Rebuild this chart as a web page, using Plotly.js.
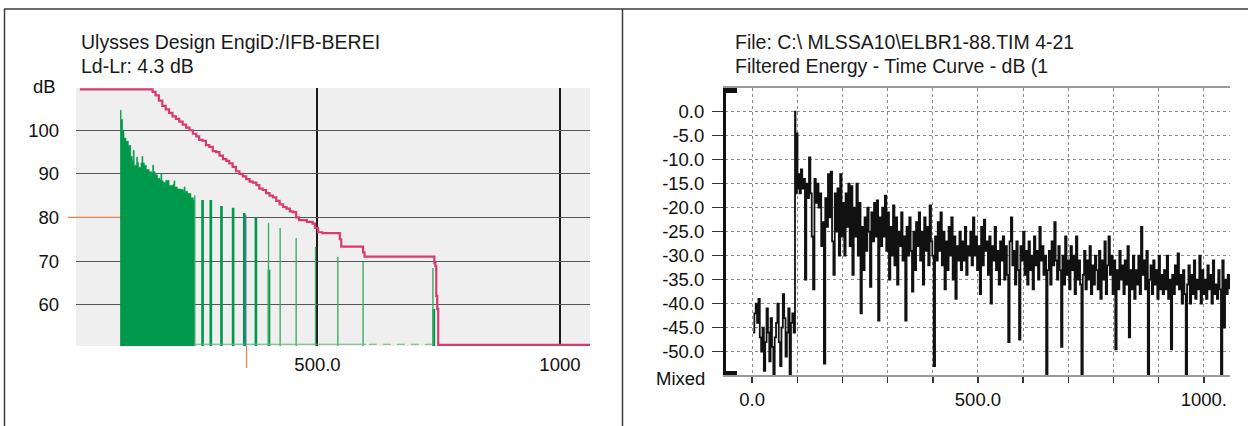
<!DOCTYPE html>
<html>
<head>
<meta charset="utf-8">
<script src="https://cdn.plot.ly/plotly-3.0.1.min.js"></script>
<style>
  html, body { margin: 0; padding: 0; background: #ffffff; }
  #chart { width: 1248px; height: 426px; }
</style>
</head>
<body>
<div id="chart"></div>
<script>
// ---------------- LEFT PANEL DATA (level in dB vs time) ----------------
const leftTitle1 = "Ulysses Design EngiD:/IFB-BEREI";
const leftTitle2 = "Ld-Lr: 4.3 dB";
const leftYTicks = [60, 70, 80, 90, 100];
const leftYTickText = ["60", "70", "80", "90", "100"];
const leftXTicks = [500, 1000];
const leftXTickText = ["500.0", "1000"];

// dense early energy (envelope of green area)
const greenT = [93, 95, 98, 101, 105, 110, 115, 118, 120, 122, 127, 129, 131, 136, 138, 140, 143, 147, 153, 158,
                160, 162, 165, 170, 175, 177, 179, 182, 187, 194, 202, 204, 206, 211, 218, 223, 225, 227, 232, 239, 244, 246];
const greenL = [104.6, 102.5, 100, 98.2, 97.5, 96.5, 94, 93, 95.4, 92, 93.8, 92.6, 91.5, 92.5, 94, 92.5, 92, 91, 90.5, 90.2,
                92, 90.5, 89.8, 89, 88.6, 90, 88.4, 88, 88.5, 87.3, 87.6, 88.4, 87, 86.5, 86.4, 86.2, 87, 86, 85.5, 84.5, 84, 84];

// discrete reflections (spikes)
const strongT = [263, 280, 302, 326, 349, 373, 400, 740];
const strongL = [84, 84, 82.6, 82.2, 81, 79.9, 68, 59];
const thinT = [247, 399, 423, 456, 496, 542, 594, 738];
const thinL = [85.1, 78.7, 77.6, 75.3, 73.2, 71, 69.8, 68.4];

// floor of the energy plot
const floorLevel = 50.9;
const floorSolidT = [246, 600];
const floorDashT = [606, 736];

// integrated (magenta) curve
const magT = [10, 156, 160, 166, 173, 180, 187, 194, 201, 208, 215, 222, 229, 236, 243, 250, 256, 263, 270, 277,
              284, 291, 298, 305, 312, 318, 325, 332, 339, 346, 353, 360, 367, 374, 380, 387, 394, 401, 408, 415,
              422, 429, 436, 443, 449, 456, 462, 470, 478, 490, 495, 501, 510, 542, 546, 549, 590, 594, 597, 738,
              741, 743, 745, 747, 749, 1062];
const magL = [109.4, 109.4, 108.8, 108, 106.8, 105.6, 104.8, 104, 103.2, 102.6, 102, 101.3, 100.6, 100, 99.2, 98.6, 97.8, 97.6, 96.6, 96.2,
              95.2, 95, 94.2, 93.4, 93, 92.4, 91.6, 90.6, 90, 89.4, 88.8, 88.2, 88, 87.4, 86.6, 86.3, 85.6, 85, 84.6, 83.8,
              83, 82.4, 82, 81.4, 81.2, 80, 79.4, 79.4, 79, 78.6, 77.6, 76.6, 76.4, 76.4, 75, 73.3, 73.3, 72, 71, 71,
              69.5, 68.8, 62, 59, 50.75, 50.75];

const cursorT = 352;     // blue cursor time
const cursorLevel = 80.5;
const refLevel = 80;      // orange reference level

// ---------------- RIGHT PANEL DATA (filtered ETC) ----------------
const rightTitle1 = "File: C:\\ MLSSA10\\ELBR1-88.TIM 4-21";
const rightTitle2 = "Filtered Energy - Time Curve - dB (1";
const rightYTicks = [0, -5, -10, -15, -20, -25, -30, -35, -40, -45, -50];
const rightYTickText = ["0.0", "-5.0", "-10.0", "-15.0", "-20.0", "-25.0", "-30.0", "-35.0", "-40.0", "-45.0", "-50.0"];
const rightXTicks = [0, 100, 200, 300, 400, 500, 600, 700, 800, 900, 1000];
const rightXTickText = ["0.0", "", "", "", "", "500.0", "", "", "", "", "1000."];

const noiseStart = 2, noiseStep = 3;
const noiseLevel = [-46, -42, -40, -44, -39, -47, -50, -45, -54, -48, -41, -46, -52, -43, -49, -55,
                    -47, -44, -40, -48, -53, -45, -38, -43, -51, -46, -41, -55, -44, -42, -46];
const arrivalTime = [95, 96, 97.5, 99, 100.5];
const arrivalLevel = [0, -4.5, -17, -4.5, -16];
const decayStart = 102, decayStep = 3;
const decayLevel = [
  -13, -17, -12, -16, -14, -35, -15, -18, -9.5, -17,
  -26, -37, -14, -19, -15, -20, -17, -28, -23, -52.5,
  -18, -24, -13, -22, -12.5, -27, -34, -17, -25, -16,
  -30, -13, -26, -19, -30, -17, -24, -15, -28, -15.5,
  -34, -20, -26, -15, -30, -19, -42, -24, -33, -22,
  -29, -20, -25, -36.5, -21, -27, -19, -26, -18.5, -43.5,
  -22, -28, -20, -26, -17.5, -29, -21, -35, -24, -30,
  -19.5, -32, -22, -36, -25, -28, -21, -31, -26, -43.5,
  -24, -30, -22, -29, -37.5, -25, -33, -23, -28, -21,
  -31, -25, -36, -22, -29, -24, -32, -19.5, -27, -30,
  -53, -26, -31, -23, -29, -21, -32, -25, -37, -27,
  -33, -24, -30, -22, -35, -26, -39, -28, -31, -25,
  -33, -27, -31, -24, -34, -28, -30, -25, -32, -22,
  -30, -26, -33, -28, -38, -24, -32, -22.5, -29, -27,
  -34, -26, -40, -28, -31, -24, -33, -29, -36, -27,
  -31, -26, -35, -28, -34, -48, -27, -22, -32, -29,
  -36, -27, -33, -47.5, -28, -31, -25, -34, -29, -36,
  -27, -33, -30, -37, -26, -32, -29, -35, -24, -31,
  -28, -34, -30, -55, -33, -29, -36, -27, -32, -23,
  -31, -35, -28, -33, -49, -30, -36, -26, -34, -31,
  -37, -28, -33, -30, -38, -26, -35, -31, -36, -55,
  -34, -29, -37, -31, -35, -28, -38, -32, -36, -30,
  -33, -37, -29, -39, -31, -35, -27, -38, -32, -26,
  -34, -30, -38, -31, -49.5, -33, -37, -29, -35, -32,
  -38, -31, -36, -28, -47, -33, -37, -30, -39, -33,
  -36, -30, -38, -24, -34, -31, -37, -29, -55, -35,
  -32, -38, -31, -36, -33, -39, -30, -37, -34, -38,
  -33, -37, -30, -39, -35, -49.5, -34, -38, -32, -36,
  -29.5, -37, -34, -40, -33, -38, -55, -36, -32, -40,
  -34, -38, -31, -39, -35, -37, -30, -40, -33, -38,
  -35, -39, -32, -37, -34, -40, -31, -38, -36, -39,
  -33, -37, -55, -31, -45, -35, -38, -34, -37
];

// ---------------- BUILD ----------------
const W = 1248, H = 426;
const px = v => v / W;
const py = v => 1 - v / H;

const etcT = [], etcL = [];
noiseLevel.forEach((v, i) => { etcT.push(noiseStart + i * noiseStep); etcL.push(v); });
arrivalLevel.forEach((v, i) => { etcT.push(arrivalTime[i]); etcL.push(v); });
decayLevel.forEach((v, i) => { etcT.push(decayStart + i * decayStep); etcL.push(v); });

const FONT = "Liberation Sans, Arial, Helvetica, sans-serif";
const tickFont = { family: FONT, size: 18.5, color: "#111111" };

const leftDom = { x: [px(76), px(590)], y: [py(346), py(88)] };
const rightDom = { x: [px(725), px(1230)], y: [py(375), py(88)] };
const leftYRange = [50.5, 109.7];
const levelToPaper = v => leftDom.y[0] + (v - leftYRange[0]) / (leftYRange[1] - leftYRange[0]) * (leftDom.y[1] - leftDom.y[0]);

const GREEN = "#00994c";
const traces = [
  { x: greenT, y: greenL, type: "scatter", mode: "lines", line: { shape: "hv", color: GREEN, width: 0.6 },
    fill: "tozeroy", fillcolor: GREEN, xaxis: "x", yaxis: "y", hoverinfo: "skip" },
  { x: strongT, y: strongL, type: "bar", width: 5.5, marker: { color: GREEN, line: { width: 0 } }, xaxis: "x", yaxis: "y", hoverinfo: "skip" },
  { x: thinT, y: thinL, type: "bar", width: 2.8, marker: { color: "#3aab62", line: { width: 0 } }, xaxis: "x", yaxis: "y", hoverinfo: "skip" },
  { x: floorSolidT, y: floorSolidT.map(() => floorLevel), type: "scatter", mode: "lines",
    line: { color: "#5cb878", width: 1.2 }, xaxis: "x", yaxis: "y", hoverinfo: "skip" },
  { x: floorDashT, y: floorDashT.map(() => floorLevel), type: "scatter", mode: "lines",
    line: { color: "#5cb878", width: 1.2, dash: "8px,6px" }, xaxis: "x", yaxis: "y", hoverinfo: "skip" },
  { x: magT, y: magL, type: "scatter", mode: "lines", line: { shape: "hv", color: "#d93a72", width: 2.2 },
    xaxis: "x", yaxis: "y", hoverinfo: "skip" },
  { x: etcT, y: etcL, type: "scatter", mode: "lines", line: { shape: "hv", color: "#111111", width: 1.8 },
    xaxis: "x2", yaxis: "y2", hoverinfo: "skip", cliponaxis: true }
];

const line = (x0, y0, x1, y1, color, width) => ({ type: "line", xref: "paper", yref: "paper",
  x0: px(x0), y0: py(y0), x1: px(x1), y1: py(y1), line: { color: color, width: width } });

const shapes = [
  // left gray plot background
  { type: "rect", xref: "paper", yref: "paper", layer: "below", x0: leftDom.x[0], x1: leftDom.x[1],
    y0: leftDom.y[0], y1: leftDom.y[1], fillcolor: "#efefef", line: { width: 0 } },
  // frame
  line(4, 9, 1248, 9, "#3a3a3a", 1.5),
  line(4.5, 9, 4.5, 426, "#3a3a3a", 1.5),
  line(622.5, 9, 622.5, 426, "#3a3a3a", 1.5),
  // right bracket
  line(725, 88, 725, 375, "#111111", 2),
  { type: "rect", xref: "paper", yref: "paper", x0: px(725), x1: px(737), y0: py(93), y1: py(88),
    fillcolor: "#111111", line: { width: 0 } },
  { type: "rect", xref: "paper", yref: "paper", x0: px(725), x1: px(737), y0: py(375), y1: py(371),
    fillcolor: "#111111", line: { width: 0 } },
  // orange reference markers
  { type: "line", xref: "paper", yref: "paper", x0: px(68), x1: px(120), y0: levelToPaper(refLevel), y1: levelToPaper(refLevel),
    line: { color: "#e8804a", width: 1.2 } },
  line(246.5, 346, 246.5, 368, "#e8804a", 1.2),
  // blue cursor
  { type: "line", xref: "x", yref: "y", x0: cursorT, x1: cursorT, y0: leftYRange[0], y1: cursorLevel,
    line: { color: "#4a7596", width: 1.5 } }
];

const titleFont = { family: FONT, size: 19.5, color: "#1a1a1a" };
const ann = (text, x, y, xanchor, font) => ({ text: text, xref: "paper", yref: "paper", x: px(x), y: py(y),
  xanchor: xanchor, yanchor: "middle", showarrow: false, font: font });

const annotations = [
  ann(leftTitle1, 79, 42, "left", titleFont),
  ann(leftTitle2, 79, 66, "left", titleFont),
  ann("dB", 58, 86, "right", tickFont),
  ann(rightTitle1, 733, 42, "left", titleFont),
  ann(rightTitle2, 733, 66, "left", titleFont),
  ann("Mixed", 707, 378, "right", tickFont)
];

const layout = {
  width: W, height: H,
  margin: { l: 0, r: 0, t: 0, b: 0, pad: 0 },
  paper_bgcolor: "#ffffff",
  plot_bgcolor: "rgba(0,0,0,0)",
  showlegend: false,
  barmode: "overlay",
  font: { family: FONT, color: "#1e1e1e" },
  xaxis: { domain: leftDom.x, range: [2, 1062], anchor: "y", tickmode: "array", tickvals: leftXTicks, ticktext: leftXTickText,
    showgrid: true, gridcolor: "#1a1a1a", gridwidth: 2, zeroline: false, showline: false, ticks: "",
    tickfont: tickFont, ticklabelstandoff: 5, fixedrange: true },
  yaxis: { domain: leftDom.y, range: leftYRange, anchor: "x", tickmode: "array", tickvals: leftYTicks, ticktext: leftYTickText,
    showgrid: true, gridcolor: "#555555", gridwidth: 1, zeroline: false, showline: false, ticks: "",
    tickfont: tickFont, ticklabelstandoff: 16, fixedrange: true },
  xaxis2: { domain: rightDom.x, range: [-60, 1058], anchor: "y2", tickmode: "array", tickvals: rightXTicks, ticktext: rightXTickText,
    ticks: "outside", ticklen: 6, tickwidth: 1.5, tickcolor: "#333333",
    showgrid: true, gridcolor: "#8a8a8a", gridwidth: 1, griddash: "dot", zeroline: false,
    showline: true, linecolor: "#9a9a9a", linewidth: 2, mirror: true,
    tickfont: tickFont, ticklabelstandoff: 1, fixedrange: true },
  yaxis2: { domain: rightDom.y, range: [-54.85, 4.94], anchor: "x2", tickmode: "array", tickvals: rightYTicks, ticktext: rightYTickText,
    ticks: "outside", ticklen: 11, tickwidth: 1.5, tickcolor: "#333333",
    showgrid: true, gridcolor: "#8a8a8a", gridwidth: 1, griddash: "dot", zeroline: false,
    showline: true, linecolor: "#111111", linewidth: 2,
    tickfont: tickFont, ticklabelstandoff: 4, fixedrange: true },
  shapes: shapes,
  annotations: annotations
};

Plotly.newPlot("chart", traces, layout, { staticPlot: true, displayModeBar: false });
</script>
</body>
</html>
